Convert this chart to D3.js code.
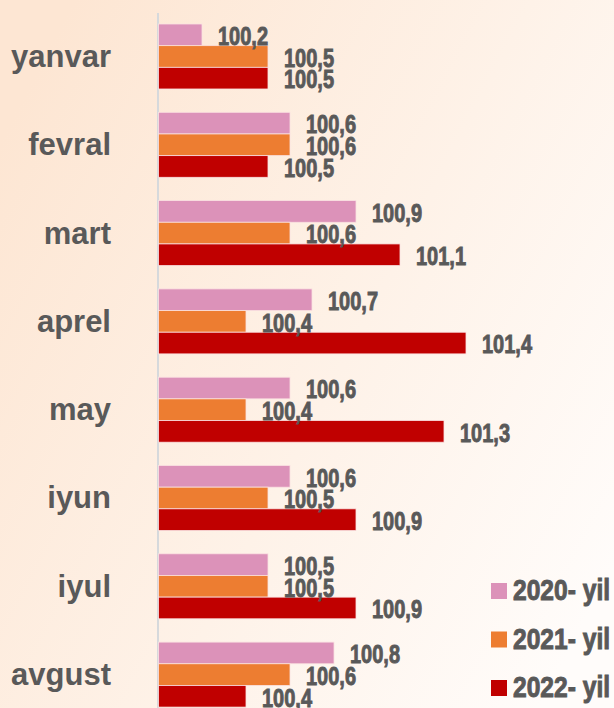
<!DOCTYPE html>
<html>
<head>
    <meta charset="utf-8">
    <script src="https://d3js.org/d3.v7.min.js"></script>
    <style>
        body { margin: 0; overflow: hidden; }
        .month { font-family: 'Liberation Sans', Arial, sans-serif; font-weight: bold; font-size: 31px; fill: #595959; }
        .val { font-family: 'Liberation Sans', Arial, sans-serif; font-weight: bold; font-size: 25px; fill: #595959; stroke: #595959; stroke-width: 0.9px; }
        .leg { font-family: 'Liberation Sans', Arial, sans-serif; font-weight: bold; font-size: 30px; fill: #595959; stroke: #595959; stroke-width: 1px; }
    </style>
</head>
<body>
<div id="chart"></div>
<script>
    // months and series (index values, %)
    var months = ["yanvar", "fevral", "mart", "aprel", "may", "iyun", "iyul", "avgust"];
    var years = ["2020- yil", "2021- yil", "2022- yil"];
    var v2020 = [100.2, 100.6, 100.9, 100.7, 100.6, 100.6, 100.5, 100.8];
    var v2021 = [100.5, 100.6, 100.6, 100.4, 100.4, 100.5, 100.5, 100.6];
    var v2022 = [100.5, 100.5, 101.1, 101.4, 101.3, 100.9, 100.9, 100.4];
    var colors = ["#dc92b9", "#ed7d31", "#c00000"];

    var width = 614, height = 708;
    var series = [v2020, v2021, v2022];

    var data = months.map(function (m, i) {
        return { month: m, values: years.map(function (y, j) { return { year: y, value: series[j][i] }; }) };
    });

    var svg = d3.select("#chart").append("svg")
        .attr("width", width)
        .attr("height", height);

    // peach to white background
    var grad = svg.append("defs").append("linearGradient")
        .attr("id", "bg")
        .attr("x1", "0%").attr("y1", "20%")
        .attr("x2", "100%").attr("y2", "80%");
    grad.append("stop").attr("offset", "0%").attr("stop-color", "#fde6d3");
    grad.append("stop").attr("offset", "55%").attr("stop-color", "#fef2e8");
    grad.append("stop").attr("offset", "100%").attr("stop-color", "#fffcfa");
    svg.append("rect").attr("width", width).attr("height", height).attr("fill", "url(#bg)");

    var x = d3.scaleLinear().domain([100, 101]).range([158, 378]);

    var y = d3.scaleBand()
        .domain(months)
        .range([24, 707.1])
        .paddingInner(0.264)
        .paddingOuter(0);

    var yInner = d3.scaleBand()
        .domain(years)
        .range([0, y.bandwidth()]);

    var color = d3.scaleOrdinal().domain(years).range(colors);

    // axis line
    svg.append("line")
        .attr("x1", x(100)).attr("x2", x(100))
        .attr("y1", 13).attr("y2", height)
        .attr("stroke", "#d6d9dc")
        .attr("stroke-width", 2);

    var groups = svg.selectAll(".grp")
        .data(data)
        .enter()
        .append("g")
        .attr("class", "grp")
        .attr("transform", function (d) { return "translate(0," + y(d.month) + ")"; });

    groups.append("text")
        .attr("class", "month")
        .attr("x", 111)
        .attr("y", y.bandwidth() / 2 + 10.5)
        .attr("text-anchor", "end")
        .text(function (d) { return d.month; });

    groups.selectAll("rect")
        .data(function (d) { return d.values; })
        .enter()
        .append("rect")
        .attr("x", x(100) + 0.5)
        .attr("y", function (d) { return yInner(d.year); })
        .attr("width", function (d) { return x(d.value) - x(100) - 0.5; })
        .attr("height", yInner.bandwidth())
        .attr("fill", function (d) { return color(d.year); })
        .attr("stroke", "#fbe1e1")
        .attr("stroke-width", 0.8);

    // narrow bold labels: squeeze horizontally
    groups.selectAll(".val")
        .data(function (d) { return d.values; })
        .enter()
        .append("text")
        .attr("class", "val")
        .attr("transform", function (d) {
            return "translate(" + (x(d.value) + 16) + "," + (yInner(d.year) + yInner.bandwidth() - 0.5) + ") scale(0.8,1)";
        })
        .text(function (d) { return d3.format(".1f")(d.value).replace(".", ","); });

    // legend
    var legend = svg.selectAll(".legend")
        .data(years)
        .enter()
        .append("g")
        .attr("class", "legend")
        .attr("transform", function (d, i) { return "translate(491," + (583 + i * 48.5) + ")"; });

    legend.append("rect")
        .attr("width", 16)
        .attr("height", 16)
        .attr("fill", function (d) { return color(d); });

    legend.append("text")
        .attr("class", "leg")
        .attr("transform", "translate(22,17) scale(0.82,1)")
        .text(function (d) { return d; });
</script>
</body>
</html>
